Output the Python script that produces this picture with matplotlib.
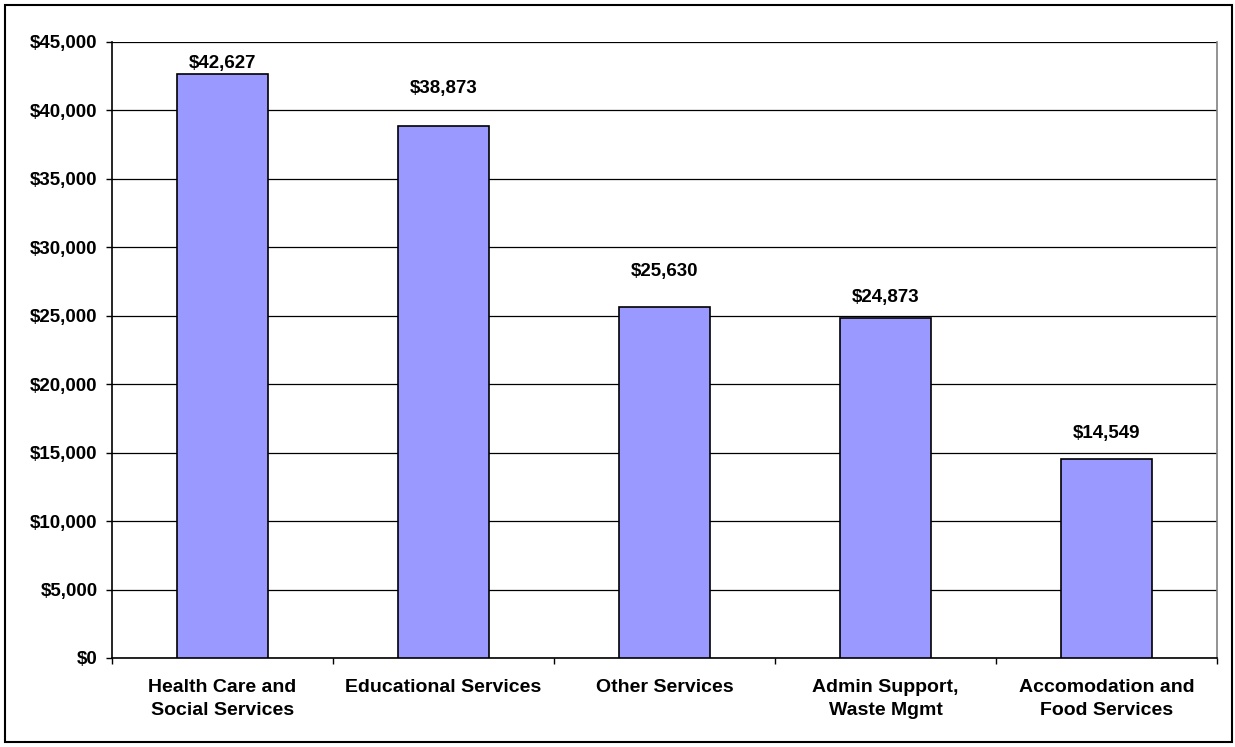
import matplotlib
matplotlib.use("Agg")
import matplotlib.pyplot as plt
from matplotlib.patches import Rectangle
from matplotlib.ticker import FuncFormatter, MultipleLocator

categories = ["Health Care and\nSocial Services", "Educational Services", "Other Services",
              "Admin Support,\nWaste Mgmt", "Accomodation and\nFood Services"]
values = [42627, 38873, 25630, 24873, 14549]
value_labels = ["$42,627", "$38,873", "$25,630", "$24,873", "$14,549"]
label_offsets_px = [11, 37, 36, 20, 25]

plt.rcParams['font.family'] = ['Liberation Sans', 'DejaVu Sans']

fig = plt.figure(figsize=(12.35, 7.47), dpi=100)
ax = fig.add_axes([112/1235, 89/747, 1105/1235, 616/747])

x = list(range(len(categories)))
ax.bar(x, values, width=0.41, color="#9999FF", edgecolor="black", linewidth=1.2, zorder=3)

ax.set_xlim(-0.5, len(categories) - 0.5)
ax.set_ylim(0, 45000)
ax.yaxis.set_major_locator(MultipleLocator(5000))
ax.yaxis.set_major_formatter(FuncFormatter(lambda v, p: f"${v:,.0f}"))
ax.grid(axis="y", color="black", linewidth=0.9, zorder=0)

for xi, v, lab, off in zip(x, values, value_labels, label_offsets_px):
    ax.annotate(lab, (xi, v), xytext=(0, off * 72 / 100), textcoords="offset points",
                ha="center", va="center", fontsize=13.5, fontweight="bold")

ax.set_xticks(x)
ax.set_xticklabels(categories, fontsize=14, fontweight="bold", linespacing=1.45)
ax.set_xticks([i + 0.5 for i in range(-1, len(categories))], minor=True)
ax.tick_params(axis="x", which="major", length=0, pad=15)
ax.tick_params(axis="x", which="minor", length=4.5, width=1, direction="out")
ax.tick_params(axis="y", length=4.5, width=1, direction="out", labelsize=13.5, pad=6)
for t in ax.get_yticklabels():
    t.set_fontweight("bold")

for s in ["left", "bottom"]:
    ax.spines[s].set_color("black")
    ax.spines[s].set_linewidth(1.2)
ax.spines["top"].set_visible(False)
ax.spines["right"].set_color("#808080")
ax.spines["right"].set_linewidth(1.2)

fig.patches.append(Rectangle((5/1235, 5/747), 1227/1235, 737/747, transform=fig.transFigure,
                             fill=False, edgecolor="black", linewidth=1.5))

fig.savefig("out.png", dpi=100)
